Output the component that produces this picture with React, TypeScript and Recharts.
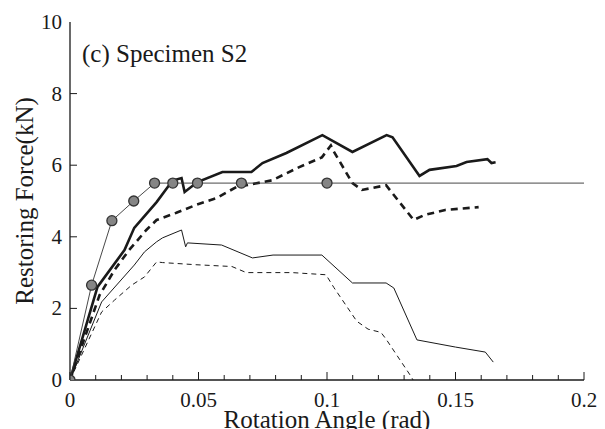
import { ComposedChart, Line, XAxis, YAxis } from "recharts"

// rotation angle (rad) / restoring force (kN)
const predicted = [
  [0, 0], [0.0084, 2.65], [0.0163, 4.45], [0.0248, 5.0], [0.0329, 5.5],
  [0.04, 5.5], [0.0496, 5.5], [0.0667, 5.5], [0.1, 5.5], [0.2, 5.5],
]

const thickSolid = [
  [0, 0], [0.0107, 2.6], [0.0212, 3.63], [0.025, 4.25], [0.0337, 4.97], [0.0399, 5.57],
  [0.0434, 5.64], [0.0446, 5.25], [0.0496, 5.53], [0.0593, 5.81], [0.0706, 5.81],
  [0.0749, 6.06], [0.0842, 6.34], [0.0982, 6.84], [0.1099, 6.37], [0.1232, 6.84],
  [0.1255, 6.78], [0.136, 5.7], [0.1399, 5.87], [0.1504, 5.98], [0.1543, 6.09],
  [0.1624, 6.17], [0.164, 6.06], [0.1656, 6.08],
]

const thickDashed = [
  [0, 0], [0.0115, 2.37], [0.0173, 3.07], [0.023, 3.63], [0.0297, 4.19], [0.0337, 4.47],
  [0.0414, 4.67], [0.049, 4.89], [0.057, 5.08], [0.0647, 5.39], [0.0686, 5.44],
  [0.0787, 5.58], [0.089, 5.94], [0.098, 6.22], [0.1015, 6.55], [0.1025, 6.4],
  [0.1099, 5.5], [0.1136, 5.31], [0.123, 5.44], [0.1337, 4.47], [0.138, 4.61],
  [0.146, 4.75], [0.159, 4.83],
]

const thinSolid = [
  [0, 0], [0.0123, 2.18], [0.025, 3.21], [0.029, 3.58], [0.0337, 3.86], [0.036, 3.97],
  [0.0434, 4.19], [0.045, 3.72], [0.0457, 3.83], [0.059, 3.77], [0.071, 3.41],
  [0.079, 3.49], [0.098, 3.49], [0.1099, 2.71], [0.123, 2.71], [0.126, 2.57],
  [0.135, 1.12], [0.15, 0.92], [0.1616, 0.78], [0.1647, 0.5],
]

const thinDashed = [
  [0, 0], [0.0123, 1.9], [0.0173, 2.23], [0.024, 2.65], [0.029, 2.88], [0.0337, 3.3],
  [0.036, 3.28], [0.049, 3.22], [0.063, 3.17], [0.0686, 3.0], [0.0864, 3.0],
  [0.0996, 2.94], [0.1027, 2.58], [0.1116, 1.64], [0.116, 1.42], [0.121, 1.33],
  [0.123, 1.14], [0.1326, 0.11], [0.1335, 0],
]

const xTicks = [
  0, 0.01, 0.02, 0.03, 0.04, 0.05, 0.06, 0.07, 0.08, 0.09, 0.1,
  0.11, 0.12, 0.13, 0.14, 0.15, 0.16, 0.17, 0.18, 0.19, 0.2,
]
const xMajor = [0, 0.05, 0.1, 0.15, 0.2]
const yTicks = [0, 2, 4, 6, 8, 10]

const FONT = '"Liberation Serif", "Times New Roman", serif'
const INK = "#1a1a1a"

const toPoints = (rows: number[][]) => rows.map(([x, y]) => ({ x, y }))

const isMajor = (v: number) => xMajor.some((m) => Math.abs(m - v) < 1e-9)
const fmt = (v: number) => String(Number(v.toFixed(2)))

function BottomTick(props: any) {
  const { x, y, payload } = props
  const major = isMajor(payload.value)
  return (
    <g>
      <line x1={x} x2={x} y1={y} y2={y - (major ? 8 : 5)} stroke={INK} strokeWidth={1} />
      {major && (
        <text x={x} y={y + 27} textAnchor="middle" fontSize={21} fontFamily={FONT} fill={INK}>
          {fmt(payload.value)}
        </text>
      )}
    </g>
  )
}

function TopTick(props: any) {
  const { x, y, payload } = props
  const major = isMajor(payload.value)
  return <line x1={x} x2={x} y1={y} y2={y + (major ? 8 : 5)} stroke={INK} strokeWidth={1} />
}

function LeftTick(props: any) {
  const { x, y, payload } = props
  const v = payload.value
  const inner = v > 0 && v < 10
  return (
    <g>
      {inner && <line x1={x} x2={x + 7} y1={y} y2={y} stroke={INK} strokeWidth={1} />}
      <text x={x - 8} y={y} dy={7} textAnchor="end" fontSize={21} fontFamily={FONT} fill={INK}>
        {v}
      </text>
    </g>
  )
}

function RightTick(props: any) {
  const { x, y, payload } = props
  const v = payload.value
  if (v <= 0 || v >= 10) return <g />
  return <line x1={x} x2={x - 7} y1={y} y2={y} stroke="#444" strokeWidth={1} />
}

function CircleDot(props: any) {
  const { cx, cy, payload, index } = props
  if (payload.x >= 0.2) return <g key={index} />
  return <circle key={index} cx={cx} cy={cy} r={5} fill="#858585" stroke="#333" strokeWidth={1.3} />
}

export default function App() {
  return (
    <div style={{ position: "absolute", left: 0, top: 0, width: 605, height: 429, background: "#fff", fontFamily: FONT }}>
      <ComposedChart width={605} height={429} margin={{ top: 22, right: 21, bottom: 0, left: 0 }}>
        <XAxis
          dataKey="x"
          type="number"
          domain={[0, 0.2]}
          ticks={xTicks}
          interval={0}
          height={49}
          tickSize={0}
          tickMargin={0}
          tickLine={false}
          tick={<BottomTick />}
          axisLine={{ stroke: INK, strokeWidth: 1.3 }}
          allowDataOverflow
          label={{
            content: ({ viewBox }: any) => (
              <text
                x={viewBox.x + viewBox.width / 2}
                y={viewBox.y + 48}
                textAnchor="middle"
                fontSize={25}
                fontFamily={FONT}
                fill={INK}
              >
                Rotation Angle (rad)
              </text>
            ),
          }}
        />
        <XAxis
          xAxisId="top"
          orientation="top"
          type="number"
          domain={[0, 0.2]}
          ticks={xTicks}
          interval={0}
          height={0}
          tickSize={0}
          tickMargin={0}
          tickLine={false}
          tick={<TopTick />}
          axisLine={{ stroke: INK, strokeWidth: 1.3 }}
        />
        <YAxis
          type="number"
          domain={[0, 10]}
          ticks={yTicks}
          interval={0}
          width={70}
          tickSize={0}
          tickMargin={0}
          tickLine={false}
          tick={<LeftTick />}
          axisLine={{ stroke: INK, strokeWidth: 1.3 }}
          allowDataOverflow
          label={{
            content: ({ viewBox }: any) => (
              <text
                transform={`translate(${viewBox.x + 24}, ${viewBox.y + viewBox.height / 2}) rotate(-90)`}
                textAnchor="middle"
                dominantBaseline="central"
                fontSize={25}
                fontFamily={FONT}
                fill={INK}
              >
                Restoring Force(kN)
              </text>
            ),
          }}
        />
        <YAxis
          yAxisId="right"
          orientation="right"
          type="number"
          domain={[0, 10]}
          ticks={yTicks}
          interval={0}
          width={0}
          tickSize={0}
          tickMargin={0}
          tickLine={false}
          tick={<RightTick />}
          axisLine={{ stroke: "#555", strokeWidth: 1.2 }}
        />

        <Line
          data={toPoints(thinDashed)}
          dataKey="y"
          stroke={INK}
          strokeWidth={1}
          strokeDasharray="5 4"
          dot={false}
          isAnimationActive={false}
        />
        <Line
          data={toPoints(thinSolid)}
          dataKey="y"
          stroke={INK}
          strokeWidth={1}
          dot={false}
          isAnimationActive={false}
        />
        <Line
          data={toPoints(thickDashed)}
          dataKey="y"
          stroke={INK}
          strokeWidth={2.6}
          strokeDasharray="7 5"
          dot={false}
          isAnimationActive={false}
        />
        <Line
          data={toPoints(thickSolid)}
          dataKey="y"
          stroke={INK}
          strokeWidth={2.6}
          dot={false}
          isAnimationActive={false}
        />
        <Line
          data={toPoints(predicted)}
          dataKey="y"
          stroke="#333"
          strokeWidth={0.9}
          dot={<CircleDot />}
          isAnimationActive={false}
        />
      </ComposedChart>
      <div
        style={{
          position: "absolute",
          left: 82,
          top: 41,
          fontSize: 25,
          lineHeight: "25px",
          color: INK,
          whiteSpace: "nowrap",
        }}
      >
        (c) Specimen S2
      </div>
    </div>
  )
}
